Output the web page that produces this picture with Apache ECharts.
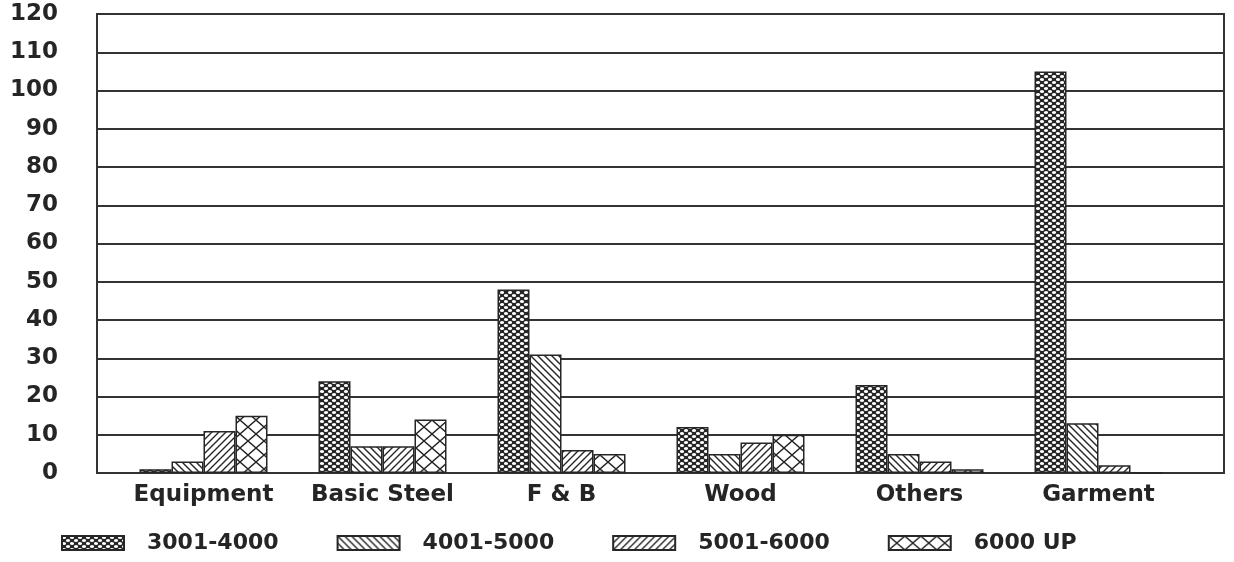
<!DOCTYPE html>
<html>
<head>
<meta charset="utf-8">
<script src="https://cdn.jsdelivr.net/npm/echarts@6/dist/echarts.min.js"></script>
<style>
  html, body { margin: 0; padding: 0; background: #ffffff; }
  #chart { width: 1234px; height: 562px; }
</style>
</head>
<body>
<div id="chart"></div>
<script>
// Industry groups along the x axis
var categories = ['Equipment', 'Basic Steel', 'F & B', 'Wood', 'Others', 'Garment'];

// Series names (wage bands)
var seriesNames = ['3001-4000', '4001-5000', '5001-6000', '6000 UP'];

// Counts per industry for each band
var band3001 = [1, 24, 48, 12, 23, 105];
var band4001 = [3, 7, 31, 5, 5, 13];
var band5001 = [11, 7, 6, 8, 3, 2];
var band6000 = [15, 14, 5, 10, 1, 0];

// Y axis ticks
var yMin = 0, yMax = 120, yStep = 10;

var INK = '#262626';

// Hatch fills drawn on small canvases and tiled by ECharts
function tile(w, h, draw) {
  var c = document.createElement('canvas');
  c.width = w; c.height = h;
  var g = c.getContext('2d');
  draw(g, w, h);
  return { image: c, repeat: 'repeat' };
}

// dark mesh with staggered white holes
var fillDots = tile(8, 6, function (g, w, h) {
  g.fillStyle = INK; g.fillRect(0, 0, w, h);
  g.fillStyle = '#ffffff';
  [[2, 1.5], [6, 4.5]].forEach(function (p) {
    g.beginPath(); g.ellipse(p[0], p[1], 2.1, 1.5, 0, 0, Math.PI * 2); g.fill();
  });
});

var fillBack = tile(7, 7, function (g, w, h) {
  g.fillStyle = '#ffffff'; g.fillRect(0, 0, w, h);
  g.strokeStyle = INK; g.lineWidth = 1.4;
  g.beginPath();
  g.moveTo(-1, -1); g.lineTo(w + 1, h + 1);
  g.moveTo(-1 - w, -1); g.lineTo(1, h + 1);
  g.moveTo(w - 1, -1); g.lineTo(2 * w + 1, h + 1);
  g.stroke();
});

var fillFwd = tile(7, 7, function (g, w, h) {
  g.fillStyle = '#ffffff'; g.fillRect(0, 0, w, h);
  g.strokeStyle = INK; g.lineWidth = 1.4;
  g.beginPath();
  g.moveTo(-1, h + 1); g.lineTo(w + 1, -1);
  g.moveTo(-1 - w, h + 1); g.lineTo(1, -1);
  g.moveTo(w - 1, h + 1); g.lineTo(2 * w + 1, -1);
  g.stroke();
});

var fillCross = tile(16, 14, function (g, w, h) {
  g.fillStyle = '#ffffff'; g.fillRect(0, 0, w, h);
  g.strokeStyle = INK; g.lineWidth = 1.4;
  g.beginPath();
  g.moveTo(0, 0); g.lineTo(w, h);
  g.moveTo(w, 0); g.lineTo(0, h);
  g.stroke();
});

var fills = [fillDots, fillBack, fillFwd, fillCross];
var values = [band3001, band4001, band5001, band6000];

var FONT = 'DejaVu Sans';

var chart = echarts.init(document.getElementById('chart'), null, { renderer: 'canvas' });

var series = seriesNames.map(function (name, i) {
  return {
    name: name,
    type: 'bar',
    xAxisIndex: 1,
    yAxisIndex: 1,
    data: values[i],
    barWidth: 32,
    barGap: '0%',
    itemStyle: { color: fills[i], borderColor: INK, borderWidth: 1.5 },
    emphasis: { disabled: true },
    animation: false
  };
});

chart.setOption({
  backgroundColor: '#ffffff',
  animation: false,
  grid: [
    // framed plotting area with the value scale
    { left: 97, right: 10, top: 14, bottom: 89, show: true, borderColor: '#333', borderWidth: 2, backgroundColor: 'transparent' },
    // band for the grouped bars
    { left: 114, right: 46, top: 14, bottom: 89 }
  ],
  xAxis: [
    { gridIndex: 0, type: 'value', show: false, min: 0, max: 1 },
    {
      gridIndex: 1, type: 'category', data: categories,
      axisLine: { show: false }, axisTick: { show: false },
      axisLabel: { interval: 0, color: '#252525', fontFamily: FONT, fontWeight: 'bold', fontSize: 23, margin: 11 }
    }
  ],
  yAxis: [
    {
      gridIndex: 0, type: 'value', min: yMin, max: yMax, interval: yStep,
      axisLine: { show: false }, axisTick: { show: false },
      axisLabel: { color: '#252525', fontFamily: FONT, fontWeight: 'bold', fontSize: 23, margin: 39 },
      splitLine: { lineStyle: { color: '#333', width: 2 } }
    },
    { gridIndex: 1, type: 'value', min: yMin, max: yMax, interval: yStep, show: false, splitLine: { show: false } }
  ],
  legend: {
    left: 61, top: 532, padding: 0,
    itemWidth: 62, itemHeight: 14, itemGap: 58,
    icon: 'rect',
    selectedMode: false,
    textStyle: { color: '#252525', fontFamily: FONT, fontWeight: 'bold', fontSize: 22, padding: [0, 0, 0, 18] },
    data: seriesNames
  },
  series: series
});
</script>
</body>
</html>
